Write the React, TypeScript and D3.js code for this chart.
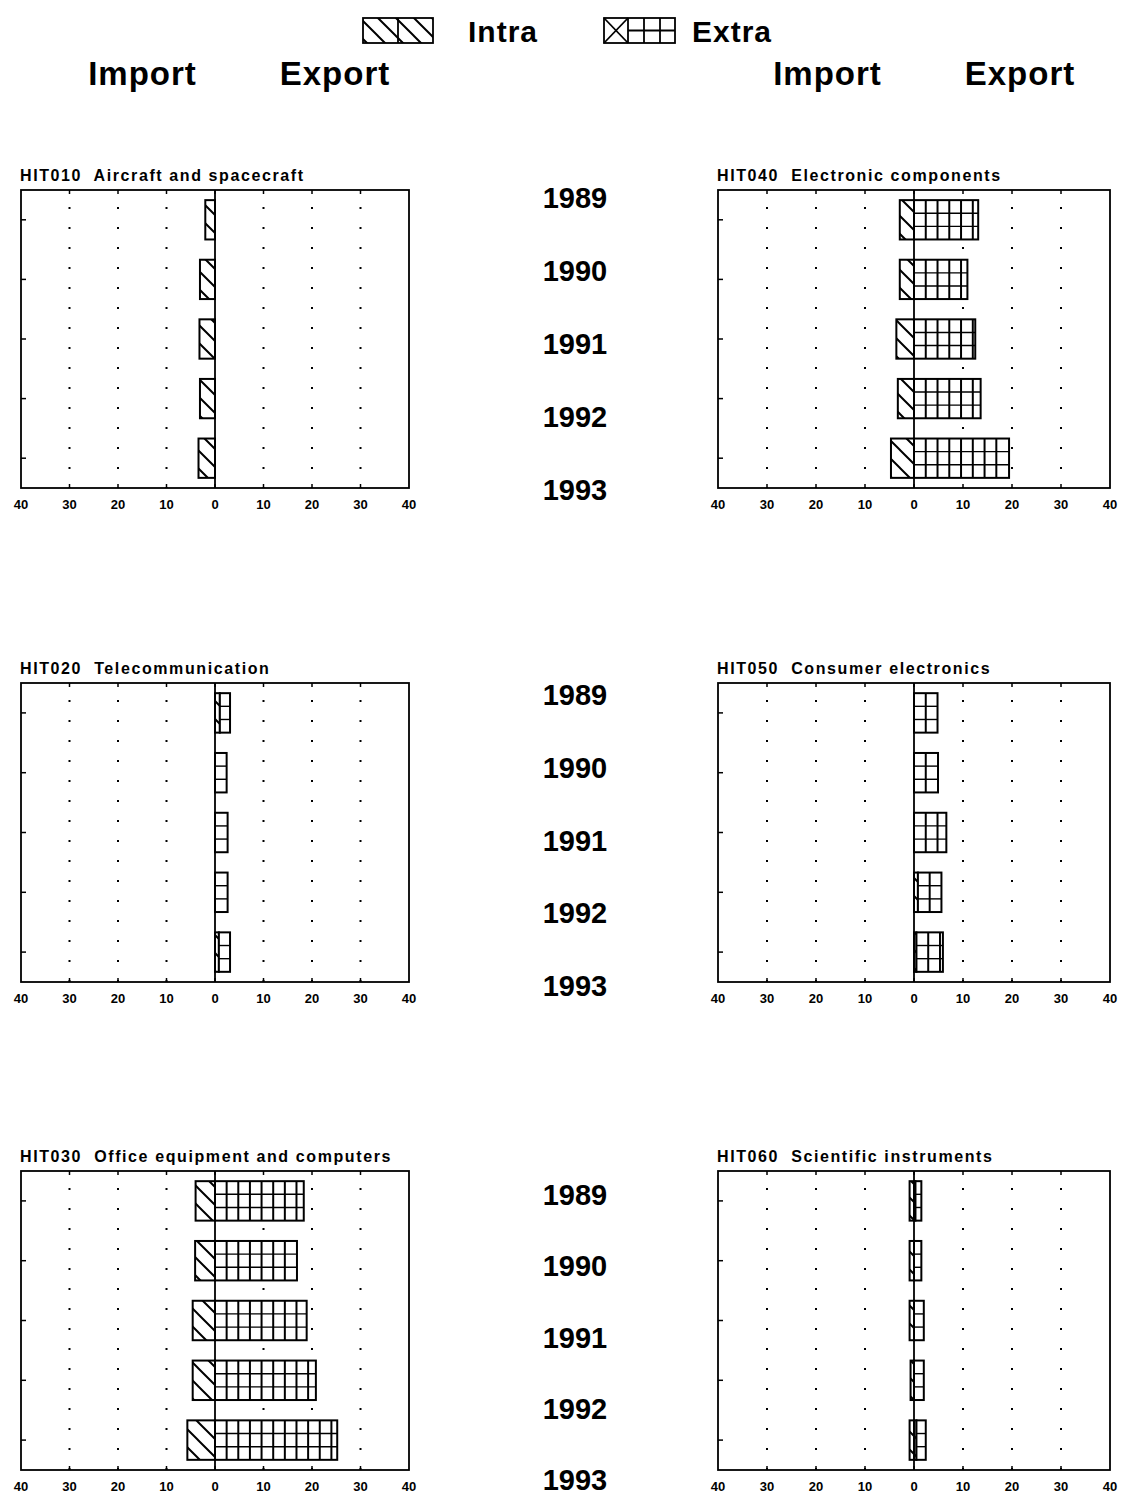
import * as d3 from 'd3';

const YEARS = ['1989', '1990', '1991', '1992', '1993'];
const CODES = ['HIT010', 'HIT020', 'HIT030', 'HIT040', 'HIT050', 'HIT060'];
const NAMES = [
  'Aircraft and spacecraft',
  'Telecommunication',
  'Office equipment and computers',
  'Electronic components',
  'Consumer electronics',
  'Scientific instruments',
];

// import side (drawn left, intra hatch)
const INTRA_IMP = [
  [2.0, 3.1, 3.2, 3.1, 3.4],
  [0, 0, 0, 0, 0],
  [4.0, 4.1, 4.6, 4.6, 5.7],
  [2.9, 2.9, 3.6, 3.3, 4.7],
  [0, 0, 0, 0, 0],
  [0.9, 0.9, 0.9, 0.7, 0.9],
];
// export side, intra part (next to zero)
const INTRA_EXP = [
  [0, 0, 0, 0, 0],
  [1.0, 0, 0, 0, 0.8],
  [0, 0, 0, 0, 0],
  [0, 0, 0, 0, 0],
  [0, 0, 0, 0.8, 0.5],
  [0.3, 0, 0, 0, 0.5],
];
// export side, extra part
const EXTRA_EXP = [
  [0, 0, 0, 0, 0],
  [2.1, 2.4, 2.6, 2.6, 2.3],
  [18.3, 16.9, 18.9, 20.8, 25.2],
  [13.1, 10.9, 12.5, 13.6, 19.4],
  [4.8, 4.9, 6.6, 4.8, 5.4],
  [1.2, 1.5, 2.0, 2.0, 1.9],
];

const X_TICKS = [-40, -30, -20, -10, 0, 10, 20, 30, 40];
const GRID_X = [-30, -20, -10, 10, 20, 30];
const CELL = 2.4; // width of one extra grid cell, in %

const COLS: [number, number][] = [[21, 409], [718, 1110]];
const ROWS: [number, number][] = [[190, 488], [683, 982], [1171, 1470]];
const LABEL_ROWS: [number, number][] = [[198, 490], [695, 986], [1195, 1480]];

const FONT = '"Liberation Sans", Arial, Helvetica, sans-serif';

function Panel({ i }: { i: number }) {
  const col = Math.floor(i / 3);
  const row = i % 3;
  const [x0, x1] = COLS[col];
  const [y0, y1] = ROWS[row];
  const x = d3.scaleLinear().domain([-40, 40]).range([x0, x1]);
  const y = d3.scaleBand().domain(YEARS).range([y0, y1]).paddingInner(0.34).paddingOuter(0.17);
  const bw = y.bandwidth();
  const dotOffset = 20 - 17;

  return (
    <g>
      <text x={x0 - 1} y={y0 - 9} fontFamily={FONT} fontWeight="bold" fontSize={16}
        letterSpacing={1.6} style={{ whiteSpace: 'pre' }}>
        {`${CODES[i]}  ${NAMES[i]}`}
      </text>
      <rect x={x0} y={y0} width={x1 - x0} height={y1 - y0} fill="#fff" />

      {/* dotted grid */}
      {GRID_X.map(g => (
        <line key={g} x1={x(g)} x2={x(g)} y1={y0} y2={y1} stroke="#000" strokeWidth={2}
          strokeDasharray="2 18" strokeDashoffset={dotOffset} />
      ))}

      {/* ticks */}
      {YEARS.map(yr => (
        <line key={yr} x1={x0} x2={x0 + 5} y1={y(yr)! + bw / 2} y2={y(yr)! + bw / 2}
          stroke="#000" strokeWidth={1.5} />
      ))}
      {X_TICKS.slice(1, -1).map(t => (
        <g key={t}>
          <line x1={x(t)} x2={x(t)} y1={y0} y2={y0 + 4} stroke="#000" strokeWidth={1.5} />
          <line x1={x(t)} x2={x(t)} y1={y1} y2={y1 - 4} stroke="#000" strokeWidth={1.5} />
        </g>
      ))}

      {/* bars */}
      {YEARS.map((yr, k) => {
        const by = y(yr)!;
        const imp = INTRA_IMP[i][k];
        const ie = INTRA_EXP[i][k];
        const ee = EXTRA_EXP[i][k];
        const cells: number[] = [];
        for (let v = ie + CELL; v < ie + ee - 0.3; v += CELL) cells.push(v);
        return (
          <g key={yr} stroke="#000" strokeWidth={2}>
            {imp > 0 && (
              <rect x={x(-imp)} y={by} width={x(0) - x(-imp)} height={bw} fill="url(#intraHatch)" />
            )}
            {ie > 0 && (
              <rect x={x(0)} y={by} width={x(ie) - x(0)} height={bw} fill="url(#intraHatch)" />
            )}
            {ee > 0 && (
              <g>
                <rect x={x(ie)} y={by} width={x(ie + ee) - x(ie)} height={bw} fill="#fff" />
                {[1, 2].map(r => (
                  <line key={r} x1={x(ie)} x2={x(ie + ee)} y1={by + (bw * r) / 3} y2={by + (bw * r) / 3}
                    strokeWidth={1.4} />
                ))}
                {cells.map(v => (
                  <line key={v} x1={x(v)} x2={x(v)} y1={by} y2={by + bw} />
                ))}
              </g>
            )}
          </g>
        );
      })}

      {/* zero line */}
      <line x1={x(0)} x2={x(0)} y1={y0} y2={y1} stroke="#000" strokeWidth={1.8} />
      <rect x={x0} y={y0} width={x1 - x0} height={y1 - y0} fill="none" stroke="#000" strokeWidth={1.8} />

      {/* tick labels */}
      {X_TICKS.map(t => (
        <text key={t} x={x(t)} y={y1 + 21} textAnchor="middle" fontFamily={FONT}
          fontWeight="bold" fontSize={13}>
          {Math.abs(t)}
        </text>
      ))}
    </g>
  );
}

export default function App() {
  const W = 1121;
  const H = 1495;
  return (
    <svg width={W} height={H} style={{ position: 'absolute', left: 0, top: 0, background: '#fff' }}>
      <defs>
        <pattern id="intraHatch" patternUnits="userSpaceOnUse" width={18} height={18}>
          <rect width={18} height={18} fill="#fff" stroke="none" />
          <path d="M-4,14 L4,22 M0,0 L18,18 M14,-4 L22,4" stroke="#000" strokeWidth={2} />
        </pattern>
      </defs>
      <rect width={W} height={H} fill="#fff" />

      {/* legend */}
      <g stroke="#000" strokeWidth={1.8} fill="none">
        <rect x={363} y={18} width={70} height={25} fill="url(#intraHatch)" />
        <line x1={398} x2={398} y1={18} y2={43} />
        <rect x={604} y={18} width={71} height={25} fill="#fff" />
        <line x1={604} x2={628} y1={18} y2={43} />
        <line x1={628} x2={604} y1={18} y2={43} />
        <line x1={628} x2={628} y1={18} y2={43} />
        <line x1={644} x2={644} y1={18} y2={43} />
        <line x1={660} x2={660} y1={18} y2={43} />
        <line x1={628} x2={675} y1={30.5} y2={30.5} />
      </g>
      <text x={468} y={42} fontFamily={FONT} fontWeight="bold" fontSize={30} letterSpacing={1}>Intra</text>
      <text x={692} y={42} fontFamily={FONT} fontWeight="bold" fontSize={30} letterSpacing={1}>Extra</text>

      {/* column headers */}
      {[[142.5, 'Import'], [335, 'Export'], [827.5, 'Import'], [1020, 'Export']].map(([cx, s], k) => (
        <text key={k} x={cx as number} y={85} textAnchor="middle" fontFamily={FONT}
          fontWeight="bold" fontSize={33} letterSpacing={1}>
          {s}
        </text>
      ))}

      {d3.range(6).map(i => <Panel key={i} i={i} />)}

      {/* year labels */}
      {LABEL_ROWS.map(([a, b], r) => {
        const ly = d3.scalePoint().domain(YEARS).range([a, b]);
        return (
          <g key={r}>
            {YEARS.map(yr => (
              <text key={yr} x={575} y={ly(yr)} dy="0.35em" textAnchor="middle" fontFamily={FONT}
                fontWeight="bold" fontSize={29}>
                {yr}
              </text>
            ))}
          </g>
        );
      })}
    </svg>
  );
}
